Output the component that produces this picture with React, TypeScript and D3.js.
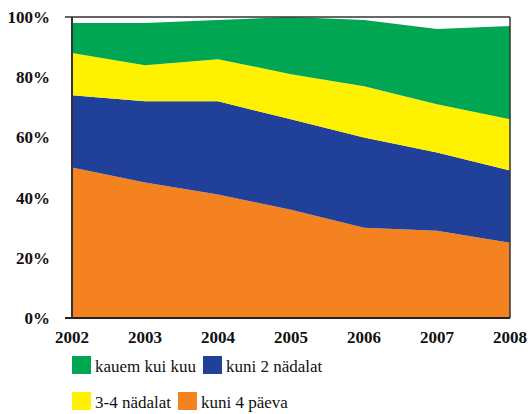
import React from "react";
import * as d3 from "d3";

const years = [2002, 2003, 2004, 2005, 2006, 2007, 2008];
const seriesNames = ["kuni 4 päeva", "kuni 2 nädalat", "3-4 nädalat", "kauem kui kuu"];
const kuni4paeva = [50, 45, 41, 36, 30, 29, 25];
const kuni2nadalat = [24, 27, 31, 30, 30, 26, 24];
const nadalat34 = [14, 12, 14, 15, 17, 16, 17];
const kauemKuiKuu = [10, 14, 13, 19, 22, 25, 31];
const yTicks = [0, 20, 40, 60, 80, 100];
const colors = ["#F58220", "#21409A", "#FFF200", "#00A651"];

const W = 528, H = 414;
const M = { left: 72, right: 18, top: 17, bottom: 96 };
const FONT = "'Times New Roman', 'Liberation Serif', Times, serif";

export default function App() {
  const x = d3.scaleLinear().domain([2002, 2008]).range([M.left, W - M.right]);
  const y = d3.scaleLinear().domain([0, 100]).range([H - M.bottom, M.top]);

  const table = years.map((yr, i) => ({
    year: yr,
    [seriesNames[0]]: kuni4paeva[i],
    [seriesNames[1]]: kuni2nadalat[i],
    [seriesNames[2]]: nadalat34[i],
    [seriesNames[3]]: kauemKuiKuu[i],
  }));
  const stacked = d3.stack<any>().keys(seriesNames)(table);
  const area = d3
    .area<any>()
    .x((d) => x(d.data.year))
    .y0((d) => y(d[0]))
    .y1((d) => y(d[1]));

  const legend = [
    { name: seriesNames[3], color: colors[3], sx: 72, tx: 95, row: 0 },
    { name: seriesNames[1], color: colors[1], sx: 203, tx: 226, row: 0 },
    { name: seriesNames[2], color: colors[2], sx: 72, tx: 95, row: 1 },
    { name: seriesNames[0], color: colors[0], sx: 178, tx: 201, row: 1 },
  ];
  const rowY = [356, 392];

  const x0 = M.left, x1 = W - M.right, yTop = y(100), yBot = y(0);

  return (
    <div style={{ fontFamily: FONT }}>
      <svg width={W} height={H} style={{ position: "absolute", left: 0, top: 0 }} fontFamily={FONT}>
        {stacked.map((s, i) => (
          <path key={s.key} d={area(s) || ""} fill={colors[i]} />
        ))}
        <line x1={65} x2={x1} y1={yTop} y2={yTop} stroke="#333" strokeWidth={1.5} />
        <line x1={65} x2={x1} y1={yBot} y2={yBot} stroke="#222" strokeWidth={2} />
        <line x1={x0} x2={x0} y1={yTop} y2={yBot} stroke="#333" strokeWidth={2} />
        <line x1={x1} x2={x1} y1={yTop} y2={yBot} stroke="#333" strokeWidth={1.5} />
        {yTicks.map((t) => (
          <text
            key={t}
            x={50}
            y={y(t) + 6}
            textAnchor="end"
            fontFamily={FONT}
            fontWeight={700}
            fontSize={17}
            fill="#111"
          >
            {t}%
          </text>
        ))}
        {years.map((yr) => (
          <text
            key={yr}
            x={x(yr)}
            y={yBot + 25}
            textAnchor="middle"
            fontFamily={FONT}
            fontWeight={700}
            fontSize={17}
            fill="#111"
          >
            {yr}
          </text>
        ))}
        {legend.map((l) => (
          <g key={l.name}>
            <rect x={l.sx} y={rowY[l.row]} width={19} height={18} fill={l.color} />
            <text x={l.tx} y={rowY[l.row] + 16} fontFamily={FONT} fontSize={17} fill="#111">
              {l.name}
            </text>
          </g>
        ))}
      </svg>
    </div>
  );
}
